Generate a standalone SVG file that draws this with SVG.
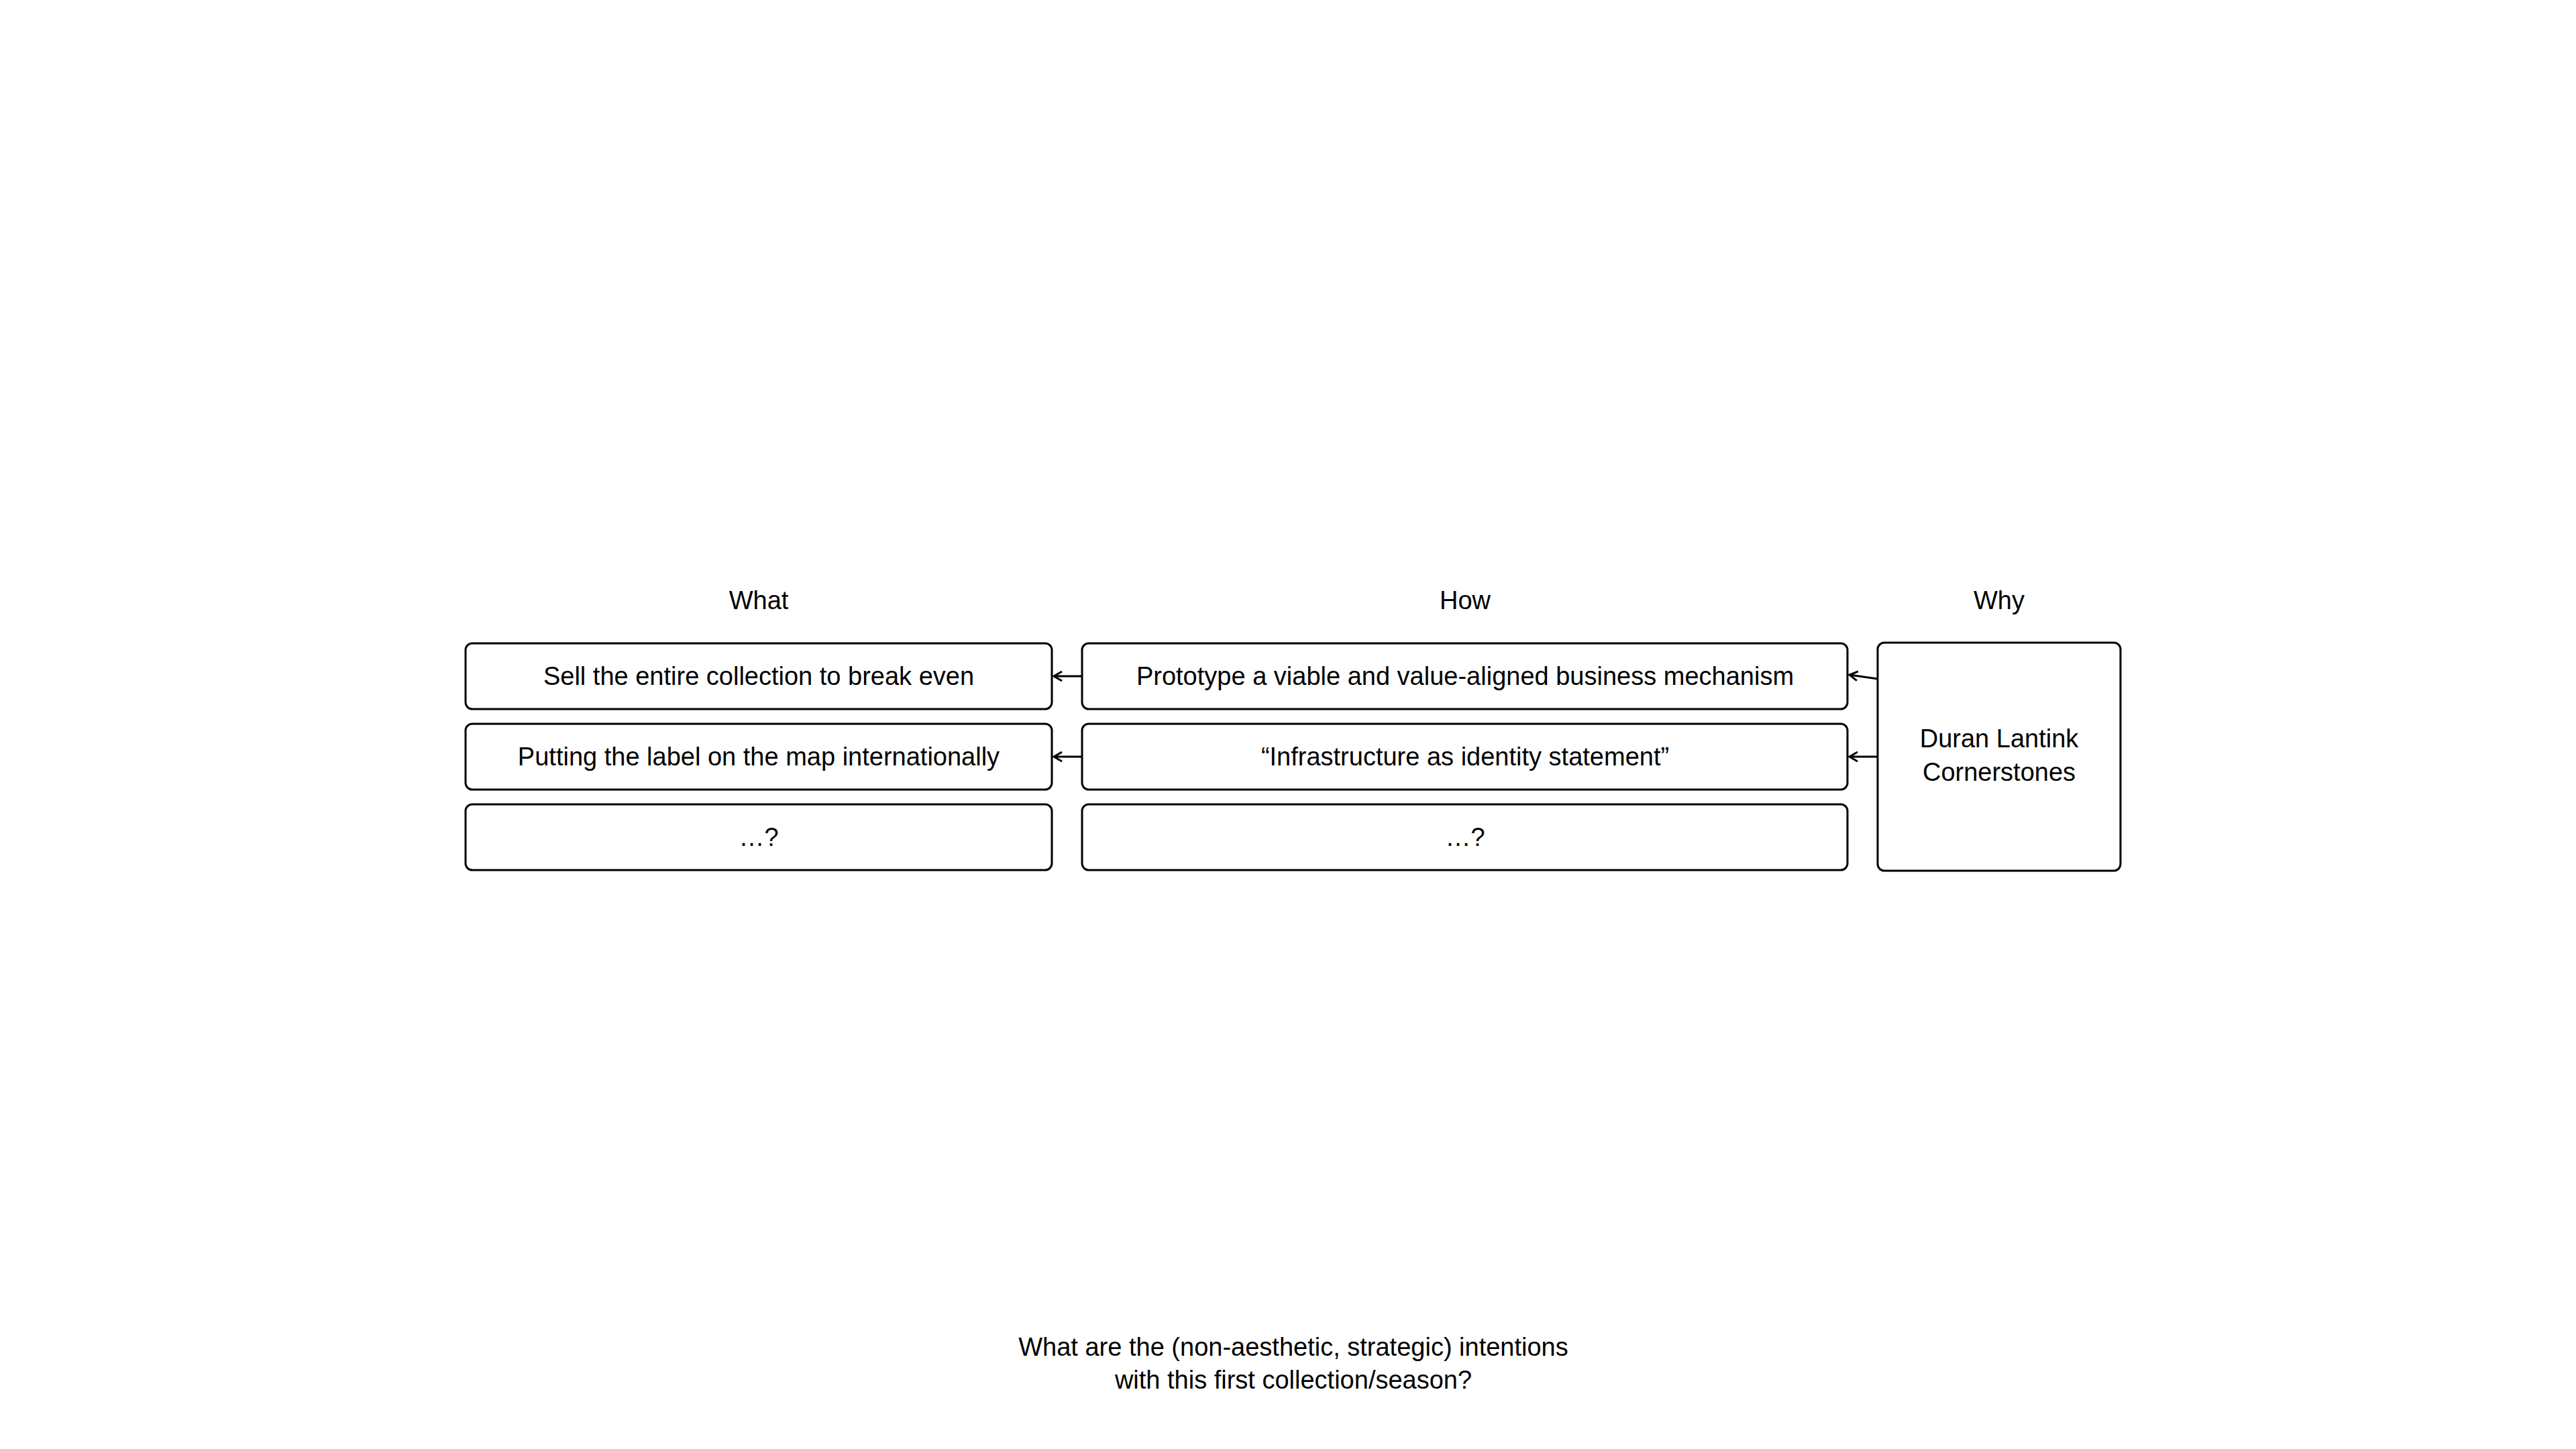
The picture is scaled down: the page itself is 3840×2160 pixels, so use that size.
<svg xmlns="http://www.w3.org/2000/svg" width="3840" height="2160" viewBox="0 0 3840 2160">
<style>
.box{fill:#fff;stroke:#000;stroke-width:3}
.t{font-family:"Liberation Sans",Arial,Helvetica,sans-serif;font-size:38px;fill:#000;text-anchor:middle}
.c{fill:none;stroke:#000;stroke-width:3}
</style>
<defs>
<marker id="arr" markerUnits="userSpaceOnUse" markerWidth="20" markerHeight="20" viewBox="-16 -10 20 20" refX="0" refY="0" orient="auto">
<path d="M-12,-7 L0,0 L-12,7" fill="none" stroke="#000" stroke-width="3"/>
</marker>
</defs>
<rect width="3840" height="2160" fill="#fff"/>
<g id="headers">
<text class="t" x="1131" y="908">What</text>
<text class="t" x="2184" y="908">How</text>
<text class="t" x="2980" y="908">Why</text>
</g>
<g id="what1"><rect class="box" x="694" y="959" width="874" height="98" rx="10"/><text class="t" x="1131" y="1021">Sell the entire collection to break even</text></g>
<g id="what2"><rect class="box" x="694" y="1079" width="874" height="98" rx="10"/><text class="t" x="1131" y="1141">Putting the label on the map internationally</text></g>
<g id="what3"><rect class="box" x="694" y="1199" width="874" height="98" rx="10"/><text class="t" x="1131" y="1261">…?</text></g>
<g id="how1"><rect class="box" x="1613" y="959" width="1141" height="98" rx="10"/><text class="t" x="2184" y="1021">Prototype a viable and value-aligned business mechanism</text></g>
<g id="how2"><rect class="box" x="1613" y="1079" width="1141" height="98" rx="10"/><text class="t" x="2184" y="1141">“Infrastructure as identity statement”</text></g>
<g id="how3"><rect class="box" x="1613" y="1199" width="1141" height="98" rx="10"/><text class="t" x="2184" y="1261">…?</text></g>
<g id="why"><rect class="box" x="2799" y="958" width="362" height="340" rx="10"/><text class="t" x="2980" y="1114">Duran Lantink</text><text class="t" x="2980" y="1164">Cornerstones</text></g>
<g id="connectors">
<path class="c" d="M2799,1012 L2757,1006" marker-end="url(#arr)"/>
<path class="c" d="M2799,1128 L2757,1128" marker-end="url(#arr)"/>
<path class="c" d="M1613,1008 L1571,1008" marker-end="url(#arr)"/>
<path class="c" d="M1613,1128 L1571,1128" marker-end="url(#arr)"/>
</g>
<g id="question">
<text class="t" x="1928" y="2021">What are the (non-aesthetic, strategic) intentions</text>
<text class="t" x="1928" y="2070">with this first collection/season?</text>
</g>
</svg>
